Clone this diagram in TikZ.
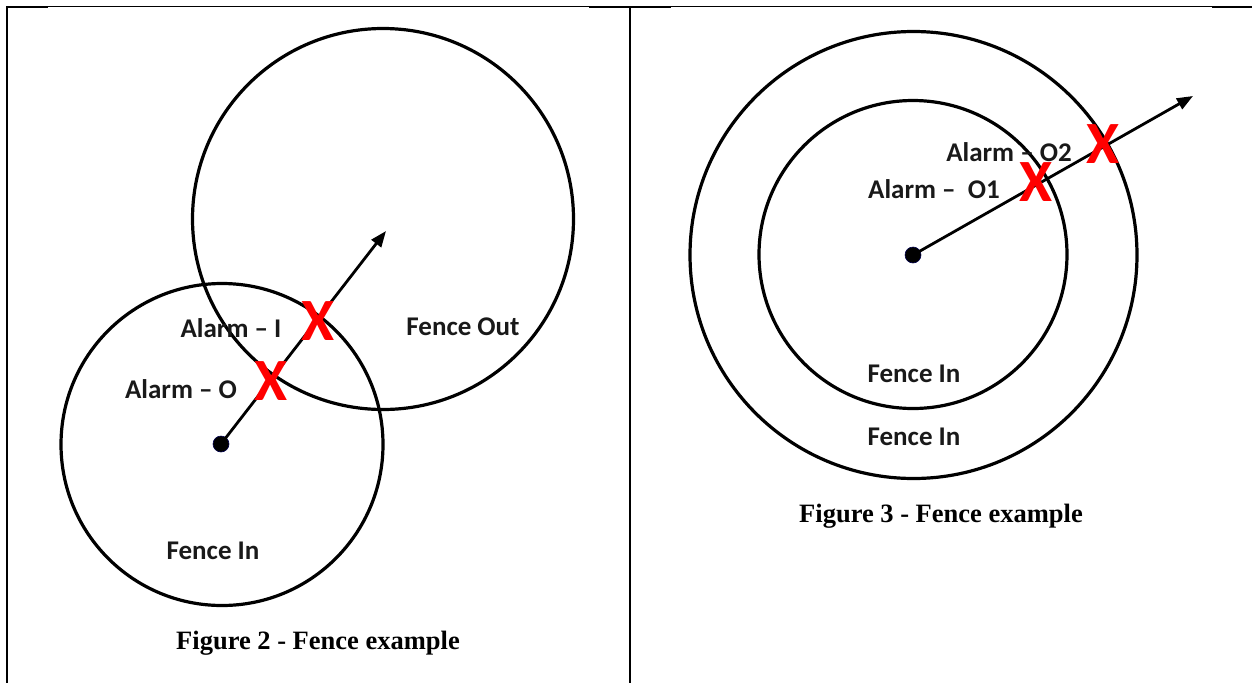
\documentclass[tikz,border=0pt]{standalone}
\usepackage{fontspec}
\setmainfont{Liberation Serif}
\newfontfamily\labelfont{Carlito}
\usetikzlibrary{arrows.meta}
\tikzset{
  fence/.style={draw=black, line width=3.2pt, circle, inner sep=0pt},
  lbl/.style={font=\labelfont\bfseries\fontsize{27}{30}\selectfont, text=black!90, inner sep=0pt},
  xmark/.style={font=\labelfont\bfseries\fontsize{60}{62}\selectfont, text=red, inner sep=0pt},
  dotnode/.style={circle, fill=black, draw=black!70!blue, line width=0.6pt, minimum size=16pt, inner sep=0pt},
  ray/.style={line width=2.8pt, -{Triangle[length=16pt,width=12pt]}},
  figcaption/.style={font=\bfseries\fontsize{26.5}{30}\selectfont, inner sep=0pt},
  thinrule/.style={line width=1pt},
  thickrule/.style={line width=2.4pt}
}
\begin{document}
\begin{tikzpicture}[x=1pt,y=-1pt]
\useasboundingbox (0,0) rectangle (1252,683);
% table frame
\draw[thinrule] (6,6.5) -- (1252,6.5);
\draw[thickrule] (6,7) -- (48,7);
\draw[thickrule] (589,7) -- (671,7);
\draw[thickrule] (1212,7) -- (1252,7);
\draw[line width=2pt] (6.8,6) -- (6.8,683);
\draw[line width=2pt] (630,6) -- (630,683);

% ---- Figure 2 ----
\node[fence, minimum size=381pt] (out) at (383,219) {};
\node[fence, minimum size=322pt] (in) at (222,444.5) {};
\node[dotnode] (d1) at (221,444) {};
\coordinate (e1) at (386,231);
\draw[ray] (d1.center) -- (e1);
\node[xmark] (x1) at (318,321) {X};
\node[xmark] (x2) at (271,381) {X};
\node[lbl] (a1) at (231,328) {Alarm – I};
\node[lbl] (a2) at (181,389) {Alarm – O};
\node[lbl] (fo) at (463,327) {Fence Out};
\node[lbl] (fi) at (213,551) {Fence In};
\node[figcaption] (c2) at (318,643) {Figure 2 - Fence example};

% ---- Figure 3 ----
\node[fence, minimum size=447pt] (outer) at (913.5,255) {};
\node[fence, minimum size=308pt] (inner) at (913,254.5) {};
\node[dotnode] (d2) at (913,255) {};
\coordinate (e2) at (1193,96);
\draw[ray] (d2.center) -- (e2);
\node[xmark] (x3) at (1103,144) {X};
\node[xmark] (x4) at (1036,182) {X};
\node[lbl] (o2) at (1009,152) {Alarm – O2};
\node[lbl] (o1) at (934,189) {Alarm –\ \ O1};
\node[lbl] (fin1) at (914,374) {Fence In};
\node[lbl] (fin2) at (914,437) {Fence In};
\node[figcaption] (c3) at (941,516) {Figure 3 - Fence example};
\end{tikzpicture}
\end{document}
